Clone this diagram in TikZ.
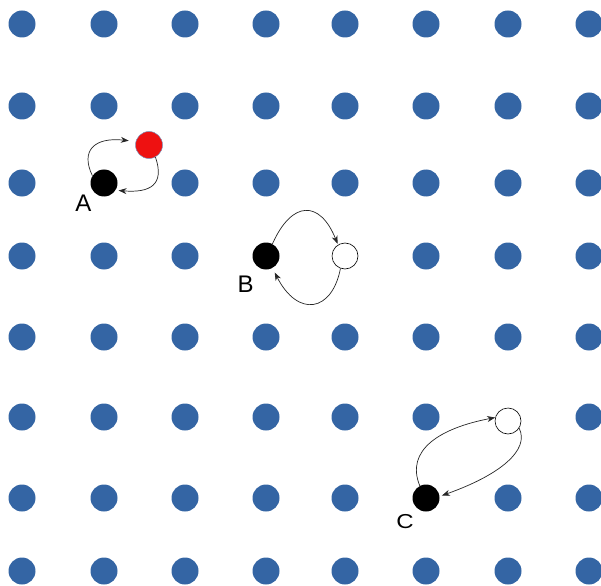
\documentclass[tikz,border=0pt]{standalone}
\usepackage{fontspec}
\setmainfont{Liberation Sans}
\usetikzlibrary{arrows.meta}
\definecolor{dotblue}{HTML}{3465A4}
\definecolor{dotred}{HTML}{EE1111}
\definecolor{redrim}{HTML}{7A8FB8}
\begin{document}
\begin{tikzpicture}[x=1pt,y=-1pt,
  gdot/.style={circle,fill=dotblue,minimum size=27pt,inner sep=0pt},
  blkdot/.style={circle,fill=black,minimum size=27pt,inner sep=0pt},
  whtdot/.style={circle,draw=black,line width=0.6pt,fill=white,minimum size=26pt,inner sep=0pt},
  reddot/.style={circle,fill=dotred,draw=redrim,line width=0.5pt,minimum size=27pt,inner sep=0pt},
  lbl/.style={font=\fontsize{24}{24}\selectfont,inner sep=0pt},
  conn/.style={line width=0.7pt,draw=black!85,-{Stealth[length=8pt,width=6pt]}}]
\useasboundingbox (0,0) rectangle (601,585);
% grid of blue dots (positions covered by coloured dots are left out)
\foreach \x [count=\i] in {22,104,185,266,345,426,508,589}{
  \foreach \y [count=\j] in {24,106,183,256,337,417,498,571}{
    \pgfmathtruncatemacro\covered{(\i==2&&\j==3)||(\i==4&&\j==4)||(\i==5&&\j==4)||(\i==6&&\j==7)||(\i==7&&\j==6)}
    \ifnum\covered=0
      \node[gdot] (g-\i-\j) at (\x,\y) {};
    \fi
  }
}
% A
\node[blkdot] (A) at (104,183) {};
\node[reddot] (R) at (149,145) {};
\node[lbl] (la) at (83.5,203) {A};
\draw[conn,shorten >=7pt] (A.148) .. controls (80,150) and (95,137) .. (R.165);
\draw[conn,shorten >=3pt] (R.-62) .. controls (165,185) and (150,193) .. (A.-32);
% B
\node[blkdot] (B) at (266,256) {};
\node[whtdot] (WB) at (345,256) {};
\node[lbl] (lb) at (245.5,284) {B};
\draw[conn,shorten >=1pt] (B.62) .. controls (292,200) and (320,200) .. (WB.122);
\draw[conn,shorten >=5pt] (WB.-110) .. controls (332,312) and (298,318) .. (B.-62);
% C
\node[blkdot] (C) at (426,498) {};
\node[whtdot] (WC) at (508,421) {};
\node[lbl] (lc) at (405,521.5) {\scalebox{1}[0.84]{C}};
\draw[conn] (C.117) .. controls (405,450) and (440,428) .. (WC.165);
\draw[conn,shorten >=2.5pt] (WC.-33) .. controls (530,450) and (500,475) .. (C.7);
\end{tikzpicture}
\end{document}
